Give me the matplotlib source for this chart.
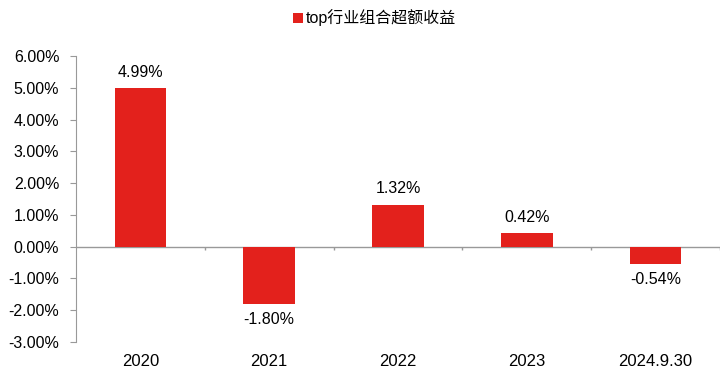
import matplotlib.pyplot as plt
import numpy as np

plt.rcParams['font.family'] = ['Liberation Sans', 'Noto Sans CJK SC', 'DejaVu Sans']

categories = ['2020', '2021', '2022', '2023', '2024.9.30']
values = [4.99, -1.80, 1.32, 0.42, -0.54]
series_name = 'top行业组合超额收益'

fig = plt.figure(figsize=(7.26, 3.75), dpi=100)
ax = fig.add_axes([0.1047, 0.088, 0.887, 0.7627])

x = np.arange(len(categories))
bars = ax.bar(x, values, width=0.4, color='#E3211C', label=series_name, zorder=3)

for xi, v in zip(x, values):
    if v >= 0:
        ax.annotate(f'{v:.2f}%', (xi, v), xytext=(0, 6), textcoords='offset points',
                    ha='center', va='bottom', fontsize=11.5)
    else:
        ax.annotate(f'{v:.2f}%', (xi, v), xytext=(0, -6), textcoords='offset points',
                    ha='center', va='top', fontsize=11.5)

ax.set_xlim(-0.5, len(categories) - 0.5)
ax.set_ylim(-3, 6)
ax.set_yticks(np.arange(-3, 7, 1))
ax.set_yticklabels([f'{t:.2f}%' for t in np.arange(-3, 7, 1)], fontsize=11.5)

ax.set_xticks(x)
ax.set_xticklabels(categories, fontsize=12)
ax.tick_params(axis='x', length=0, pad=9)
ax.tick_params(axis='y', length=4, color='#999999', direction='out', pad=8)

for s in ['top', 'right', 'bottom']:
    ax.spines[s].set_visible(False)
ax.spines['left'].set_color('#999999')

ax.axhline(0, color='#999999', lw=1, zorder=2)
bounds = np.arange(len(categories) + 1) - 0.5
ax.vlines(bounds[1:], -0.12, 0, color='#999999', lw=1)

ax.legend(loc='center', bbox_to_anchor=(0.4635, 1.133), frameon=False,
          fontsize=11.5, handlelength=0.6, handleheight=0.6, handletextpad=0.2)

fig.savefig('out.png', dpi=100)
